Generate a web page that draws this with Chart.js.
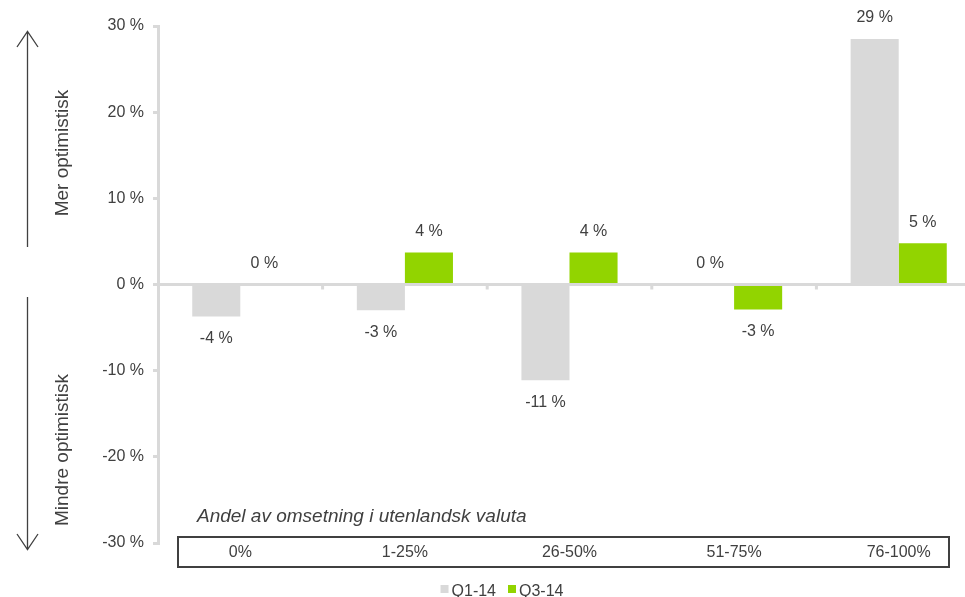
<!DOCTYPE html>
<html>
<head>
<meta charset="utf-8">
<script src="https://cdn.jsdelivr.net/npm/chart.js@4.4.1/dist/chart.umd.min.js"></script>
<style>
  html, body { margin: 0; padding: 0; background: #fff; overflow: hidden; }
  #wrap { width: 965px; height: 597px; overflow: hidden; }
  #inner { width: 990px; height: 597px; position: relative; }
</style>
</head>
<body>
<div id="wrap"><div id="inner"><canvas id="chart"></canvas></div></div>
<script>
const categories = ['0%', '1-25%', '26-50%', '51-75%', '76-100%'];
const seriesNames = ['Q1-14', 'Q3-14'];
const q1Values = [-3.7, -3.0, -11.1, 0, 28.5];
const q3Values = [0, 3.7, 3.7, -2.9, 4.8];
const yTicks = [-30, -20, -10, 0, 10, 20, 30];

const GREY = '#d9d9d9';
const GREEN = '#92d400';
const TEXT = '#404040';
const FONT = '"Liberation Sans", Arial, sans-serif';

const decor = {
  id: 'decor',
  afterDatasetsDraw(chart) {
    const { ctx } = chart;
    const x = chart.scales.x, y = chart.scales.y;
    const y0 = y.getPixelForValue(0);
    ctx.save();
    // small ticks under the zero line between categories
    ctx.strokeStyle = GREY;
    ctx.lineWidth = 3;
    for (let i = 1; i < categories.length; i++) {
      const bx = (x.getPixelForValue(i - 1) + x.getPixelForValue(i)) / 2;
      ctx.beginPath();
      ctx.moveTo(bx, y0);
      ctx.lineTo(bx, y0 + 5);
      ctx.stroke();
    }
    // value labels above / below each bar
    ctx.font = '16px ' + FONT;
    ctx.fillStyle = TEXT;
    ctx.textAlign = 'center';
    ctx.textBaseline = 'middle';
    chart.data.datasets.forEach((ds, di) => {
      chart.getDatasetMeta(di).data.forEach((bar, i) => {
        const v = ds.data[i];
        const ly = v >= 0 ? bar.y - 21 : bar.y + 22;
        ctx.fillText(Math.round(v) + ' %', bar.x, ly);
      });
    });
    ctx.restore();
  },
  afterDraw(chart) {
    const { ctx } = chart;
    const x = chart.scales.x;
    ctx.save();
    ctx.strokeStyle = TEXT;
    ctx.fillStyle = TEXT;

    // up / down arrows on the left
    ctx.lineWidth = 1.3;
    ctx.beginPath();
    ctx.moveTo(27.5, 247); ctx.lineTo(27.5, 32);
    ctx.moveTo(17, 47); ctx.lineTo(27.5, 31.5); ctx.lineTo(38, 47);
    ctx.moveTo(27.5, 297); ctx.lineTo(27.5, 549);
    ctx.moveTo(17, 534); ctx.lineTo(27.5, 549.5); ctx.lineTo(38, 534);
    ctx.stroke();

    ctx.font = '19px ' + FONT;
    ctx.textAlign = 'center';
    ctx.textBaseline = 'middle';
    [['Mer optimistisk', 153], ['Mindre optimistisk', 450]].forEach(([t, cy]) => {
      ctx.save();
      ctx.translate(63, cy);
      ctx.rotate(-Math.PI / 2);
      ctx.fillText(t, 0, 0);
      ctx.restore();
    });

    // axis caption
    ctx.font = 'italic 19px ' + FONT;
    ctx.textAlign = 'left';
    ctx.textBaseline = 'alphabetic';
    ctx.fillText('Andel av omsetning i utenlandsk valuta', 197, 522);

    // category box
    ctx.lineWidth = 2;
    ctx.strokeRect(178, 537, 771, 30);
    ctx.font = '16px ' + FONT;
    ctx.textAlign = 'center';
    ctx.textBaseline = 'middle';
    categories.forEach((c, i) => ctx.fillText(c, x.getPixelForValue(i), 553));

    // legend
    ctx.font = '16px ' + FONT;
    ctx.textAlign = 'left';
    ctx.textBaseline = 'alphabetic';
    const items = chart.data.datasets.map(ds => ({ label: ds.label, color: ds.backgroundColor, w: ctx.measureText(ds.label).width }));
    const total = items.reduce((s, it) => s + 8 + 3 + it.w, 0) + 12 * (items.length - 1);
    let lx = 502 - total / 2;
    items.forEach(it => {
      ctx.fillStyle = it.color;
      ctx.fillRect(lx, 585, 8, 8);
      ctx.fillStyle = TEXT;
      ctx.fillText(it.label, lx + 11, 596);
      lx += 8 + 3 + it.w + 12;
    });
    ctx.restore();
  }
};

new Chart(document.getElementById('chart'), {
  type: 'bar',
  data: {
    labels: categories,
    datasets: [
      { label: seriesNames[0], data: q1Values, backgroundColor: GREY },
      { label: seriesNames[1], data: q3Values, backgroundColor: GREEN }
    ]
  },
  options: {
    responsive: true,
    maintainAspectRatio: false,
    animation: false,
    layout: { padding: { left: 0, right: 9, top: 26, bottom: 54 } },
    datasets: { bar: { categoryPercentage: 0.584, barPercentage: 1.0 } },
    plugins: { legend: { display: false }, tooltip: { enabled: false } },
    scales: {
      x: { display: false },
      y: {
        min: yTicks[0],
        max: yTicks[yTicks.length - 1],
        afterFit: s => { s.width = 158; },
        afterBuildTicks: s => { s.ticks = yTicks.map(v => ({ value: v })); },
        border: { color: GREY, width: 3 },
        grid: {
          color: c => (c.tick && c.tick.value === 0 ? GREY : 'transparent'),
          lineWidth: 3,
          tickColor: GREY,
          tickWidth: 3,
          tickLength: 5
        },
        ticks: {
          color: TEXT,
          padding: 9,
          font: { family: FONT, size: 16 },
          callback: v => v + ' %'
        }
      }
    }
  },
  plugins: [decor]
});
</script>
</body>
</html>
